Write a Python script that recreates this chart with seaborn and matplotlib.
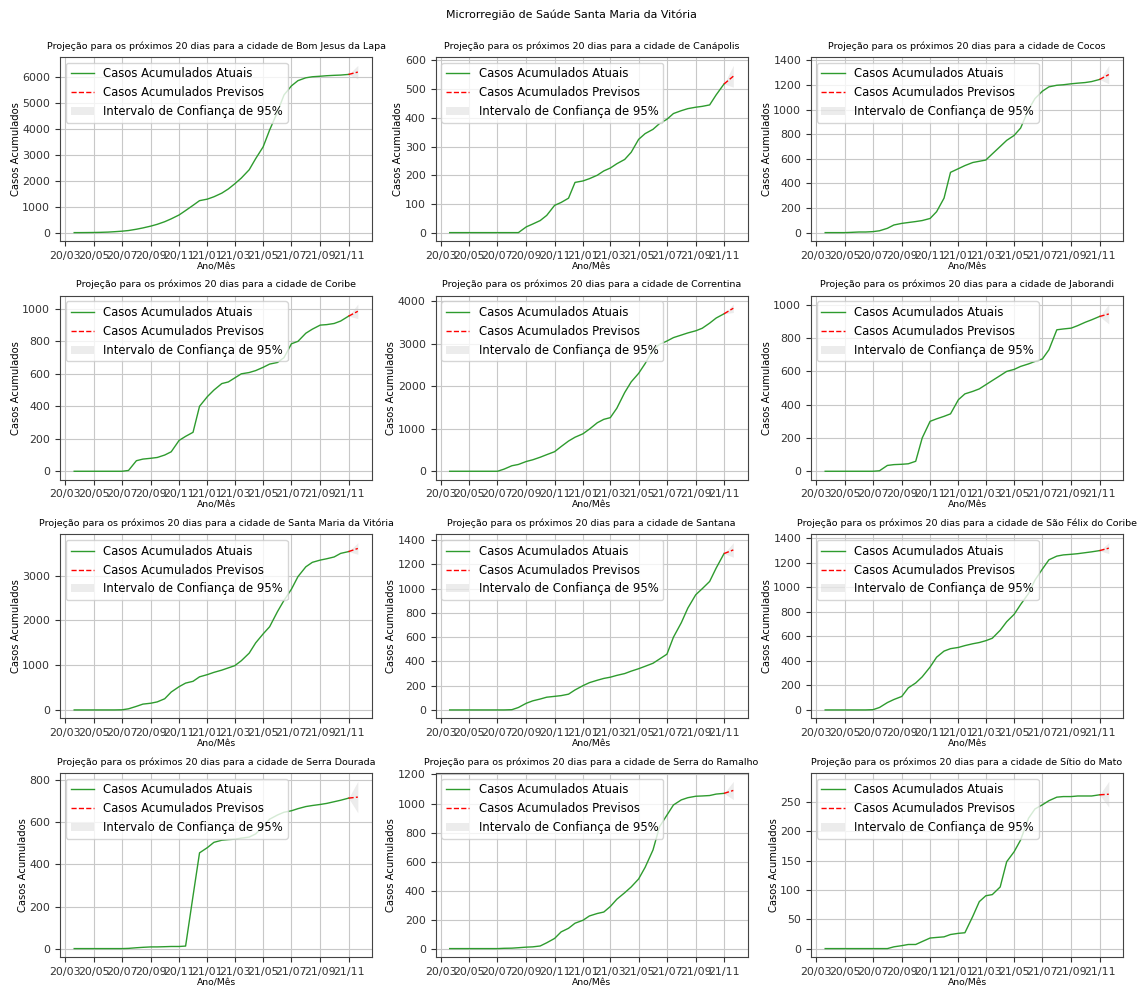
import matplotlib
matplotlib.use("Agg")
import matplotlib.pyplot as plt
import matplotlib.dates as mdates
import numpy as np
import pandas as pd
import seaborn as sns

# observed dates: first record, then 1st and 15th of every month up to 2021-11-01
dates = pd.to_datetime(["2020-03-20"]).append(pd.date_range("2020-04-01", "2021-11-01", freq="SMS"))
forecast_dates = pd.to_datetime(["2021-11-01", "2021-11-21"])

cidades = ["Bom Jesus da Lapa", "Canápolis", "Cocos", "Coribe", "Correntina", "Jaborandi",
           "Santa Maria da Vitória", "Santana", "São Félix do Coribe", "Serra Dourada",
           "Serra do Ramalho", "Sítio do Mato"]

bom_jesus = [0, 0, 2, 5, 10, 20, 35, 55, 80, 130, 180, 250, 320, 420, 530, 680, 850, 1050, 1230, 1290,
             1380, 1520, 1680, 1880, 2100, 2420, 2850, 3300, 3950, 4650, 5300, 5650, 5850, 5960, 6000,
             6020, 6040, 6055, 6065, 6090]
canapolis = [0, 0, 0, 0, 0, 0, 0, 0, 0, 0, 0, 20, 30, 42, 60, 95, 105, 120, 175, 180,
             188, 200, 215, 225, 240, 255, 280, 325, 345, 360, 380, 395, 415, 425, 432,
             437, 440, 445, 480, 518]
cocos = [0, 0, 0, 0, 2, 5, 5, 8, 15, 35, 62, 75, 82, 90, 98, 115, 170, 280, 490, 520,
         545, 570, 580, 590, 640, 700, 750, 790, 850, 1000, 1090, 1150, 1185, 1198, 1202,
         1210, 1215, 1220, 1228, 1245]
coribe = [0, 0, 0, 0, 0, 0, 0, 0, 5, 65, 75, 80, 85, 100, 120, 190, 215, 240, 400, 460,
          500, 540, 550, 575, 600, 608, 620, 640, 660, 670, 700, 785, 800, 850, 875,
          900, 903, 910, 925, 955]
correntina = [0, 0, 0, 0, 0, 0, 0, 0, 50, 130, 160, 230, 270, 330, 390, 460, 580, 710, 800, 880,
              990, 1140, 1220, 1260, 1480, 1850, 2100, 2300, 2530, 2850, 2980, 3060, 3140, 3200, 3250,
              3300, 3360, 3480, 3600, 3700]
jaborandi = [0, 0, 0, 0, 0, 0, 0, 0, 3, 35, 40, 42, 45, 60, 200, 300, 315, 330, 345, 430,
             465, 480, 495, 520, 545, 575, 600, 612, 630, 645, 660, 675, 730, 850, 855,
             860, 875, 895, 910, 930]
santa_maria = [0, 0, 0, 0, 0, 0, 0, 3, 25, 80, 130, 150, 180, 250, 400, 520, 600, 640, 740, 790,
               840, 890, 940, 990, 1100, 1270, 1500, 1700, 1860, 2200, 2450, 2700, 2980, 3200, 3300,
               3350, 3380, 3420, 3500, 3540]
santana = [0, 0, 0, 0, 0, 0, 0, 0, 0, 2, 20, 55, 75, 90, 105, 112, 118, 130, 165, 200,
           225, 245, 260, 270, 285, 300, 320, 340, 360, 385, 420, 460, 600, 720, 840,
           950, 1000, 1060, 1170, 1290]
sao_felix = [0, 0, 0, 0, 0, 0, 0, 2, 20, 60, 85, 110, 180, 220, 270, 350, 430, 480, 500, 510,
             525, 540, 550, 565, 585, 650, 720, 780, 860, 950, 1060, 1150, 1225, 1255, 1265,
             1270, 1275, 1283, 1290, 1300]
serra_dourada = [0, 0, 0, 0, 0, 0, 0, 0, 1, 4, 6, 8, 8, 9, 10, 10, 12, 250, 455, 480,
                 505, 515, 518, 520, 525, 530, 545, 580, 615, 635, 648, 655, 665, 675, 680,
                 685, 690, 698, 705, 715]
serra_ramalho = [0, 0, 0, 0, 0, 0, 0, 0, 2, 3, 6, 10, 12, 18, 40, 70, 115, 140, 175, 195,
                 225, 242, 252, 290, 340, 385, 425, 480, 560, 680, 840, 920, 990, 1025, 1040,
                 1050, 1052, 1055, 1065, 1070]
sitio_mato = [0, 0, 0, 0, 0, 0, 0, 0, 0, 0, 3, 5, 7, 7, 12, 18, 19, 20, 24, 26,
              27, 55, 80, 90, 92, 105, 148, 165, 185, 222, 238, 245, 252, 258, 259,
              259, 260, 260, 260, 262]

atuais = [bom_jesus, canapolis, cocos, coribe, correntina, jaborandi,
          santa_maria, santana, sao_felix, serra_dourada, serra_ramalho, sitio_mato]
# forecast value 20 days ahead and half width of the 95% interval at that date
previsto_final = [6180, 545, 1285, 985, 3830, 945, 3610, 1320, 1320, 720, 1090, 263]
meia_largura = [260, 38, 75, 45, 100, 60, 130, 60, 45, 75, 63, 22]

fig, axes = plt.subplots(4, 3, figsize=(11.43, 9.89), dpi=100)
plt.subplots_adjust(left=0.0525, right=0.9825, top=0.9424, bottom=0.0324, wspace=0.2035, hspace=0.297)

for ax, cidade, serie, fim, hw in zip(axes.flat, cidades, atuais, previsto_final, meia_largura):
    sns.lineplot(x=dates, y=serie, ax=ax, color="#2e9b2e", lw=1.0, label="Casos Acumulados Atuais")
    prev = [serie[-1], fim]
    sns.lineplot(x=forecast_dates, y=prev, ax=ax, color="red", lw=1.0, linestyle="--",
                 label="Casos Acumulados Previsos")
    ax.fill_between(forecast_dates, [serie[-1], fim - hw], [serie[-1], fim + hw],
                    color="grey", alpha=0.15, lw=0, label="Intervalo de Confiança de 95%")
    ax.set_title("Projeção para os próximos 20 dias para a cidade de " + cidade, fontsize=6.8)
    ax.set_xlabel("Ano/Mês", fontsize=6.6, labelpad=1)
    ax.set_ylabel("Casos Acumulados", fontsize=7.2, labelpad=1)
    ax.xaxis.set_major_locator(mdates.MonthLocator(bymonth=[1, 3, 5, 7, 9, 11]))
    ax.xaxis.set_major_formatter(mdates.DateFormatter("%y/%m"))
    ax.tick_params(labelsize=7.9, colors="#333333")
    ax.grid(True, color="#c8c8c8")
    for s in ax.spines.values():
        s.set_edgecolor("#444444")
    ax.legend(loc="upper left", fontsize=8.4, labelspacing=0.5)

fig.suptitle("Microrregião de Saúde Santa Maria da Vitória", fontsize=7.9, y=0.99)

plt.savefig("out.png", dpi=100)
